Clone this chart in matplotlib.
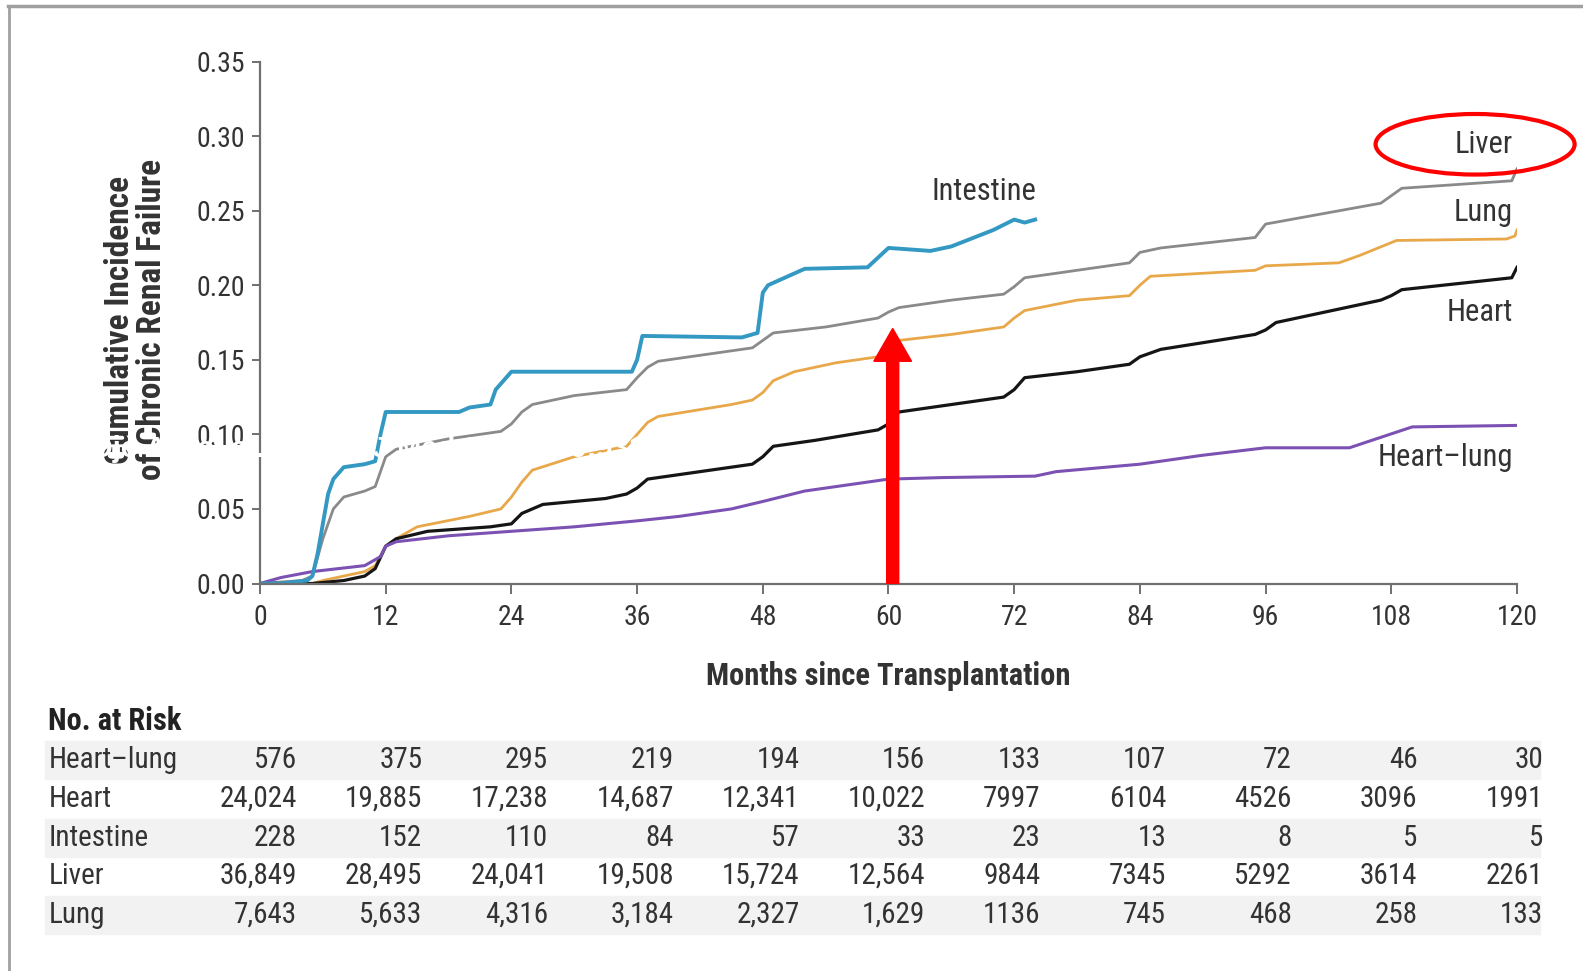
import numpy as np
import matplotlib
matplotlib.use("Agg")
import matplotlib.pyplot as plt
from matplotlib.patches import Ellipse, FancyArrow, Rectangle
from matplotlib.lines import Line2D
from matplotlib.transforms import blended_transform_factory

plt.rcParams['font.family'] = ['Liberation Sans Narrow', 'Roboto Condensed',
                               'Liberation Sans', 'DejaVu Sans']

# Cumulative incidence curves (months, incidence)
intestine_t = [0, 2, 4.5, 5, 5.5, 6, 6.5, 7, 8, 10, 11, 11.5, 12, 19, 20, 22, 22.5, 24,
               35.5, 36, 36.5, 46, 47.5, 48, 48.5, 52, 58, 60, 64, 66, 70, 72, 73, 74]
intestine_y = [0, 0, 0.002, 0.005, 0.02, 0.04, 0.06, 0.07, 0.078, 0.08, 0.082, 0.1, 0.115,
               0.115, 0.118, 0.12, 0.13, 0.142, 0.142, 0.15, 0.166, 0.165, 0.168, 0.195,
               0.2, 0.211, 0.212, 0.225, 0.223, 0.226, 0.237, 0.244, 0.242, 0.244]

liver_t = [0, 4, 5, 6, 7, 8, 10, 11, 12, 13, 18, 23, 24, 25, 26, 30, 35, 36, 37, 38, 44,
           47, 48, 49, 54, 59, 60, 61, 66, 71, 72, 73, 78, 83, 84, 86, 95, 96, 107, 108,
           109, 119.5, 120]
liver_y = [0, 0.002, 0.005, 0.03, 0.05, 0.058, 0.062, 0.065, 0.085, 0.09, 0.097, 0.102,
           0.107, 0.115, 0.12, 0.126, 0.13, 0.138, 0.145, 0.149, 0.155, 0.158, 0.163,
           0.168, 0.172, 0.178, 0.182, 0.185, 0.19, 0.194, 0.199, 0.205, 0.21, 0.215,
           0.222, 0.225, 0.232, 0.241, 0.255, 0.26, 0.265, 0.27, 0.278]

lung_t = [0, 5, 6, 8, 10, 11, 12, 13, 15, 20, 23, 24, 25, 26, 30, 35, 36, 37, 38, 45, 47,
          48, 49, 51, 55, 59, 60, 61, 66, 71, 72, 73, 78, 83, 84, 85, 95, 96, 103, 105,
          108.5, 119, 119.8, 120]
lung_y = [0, 0, 0.002, 0.005, 0.008, 0.012, 0.025, 0.03, 0.038, 0.045, 0.05, 0.058, 0.068,
          0.076, 0.085, 0.092, 0.1, 0.108, 0.112, 0.12, 0.123, 0.128, 0.136, 0.142, 0.148,
          0.152, 0.157, 0.163, 0.167, 0.172, 0.178, 0.183, 0.19, 0.193, 0.2, 0.206, 0.21,
          0.213, 0.215, 0.22, 0.23, 0.231, 0.233, 0.237]

heart_t = [0, 5, 8, 10, 11, 12, 13, 16, 22, 24, 25, 27, 33, 35, 36, 37, 45, 47, 48, 49, 53,
           59, 60, 61, 66, 71, 72, 73, 78, 83, 84, 86, 95, 96, 97, 107, 108, 109, 119.5, 120]
heart_y = [0, 0, 0.002, 0.005, 0.01, 0.025, 0.03, 0.035, 0.038, 0.04, 0.047, 0.053, 0.057,
           0.06, 0.064, 0.07, 0.078, 0.08, 0.085, 0.092, 0.096, 0.103, 0.107, 0.115, 0.12,
           0.125, 0.13, 0.138, 0.142, 0.147, 0.152, 0.157, 0.167, 0.17, 0.175, 0.19, 0.193,
           0.197, 0.205, 0.212]

heartlung_t = [0, 2, 5, 10, 11.5, 12, 13, 18, 24, 30, 36, 40, 45, 48, 52, 56, 60, 65, 74,
               76, 84, 90, 96, 104, 110, 120]
heartlung_y = [0, 0.004, 0.008, 0.012, 0.018, 0.025, 0.028, 0.032, 0.035, 0.038, 0.042,
               0.045, 0.05, 0.055, 0.062, 0.066, 0.07, 0.071, 0.072, 0.075, 0.08, 0.086,
               0.091, 0.091, 0.105, 0.106]

# No. at risk table
risk_months = [0, 12, 24, 36, 48, 60, 72, 84, 96, 108, 120]
risk_groups = ['Heart\u2013lung', 'Heart', 'Intestine', 'Liver', 'Lung']
risk_heartlung = ['576', '375', '295', '219', '194', '156', '133', '107', '72', '46', '30']
risk_heart = ['24,024', '19,885', '17,238', '14,687', '12,341', '10,022', '7997', '6104',
              '4526', '3096', '1991']
risk_intestine = ['228', '152', '110', '84', '57', '33', '23', '13', '8', '5', '5']
risk_liver = ['36,849', '28,495', '24,041', '19,508', '15,724', '12,564', '9844', '7345',
              '5292', '3614', '2261']
risk_lung = ['7,643', '5,633', '4,316', '3,184', '2,327', '1,629', '1136', '745', '468',
             '258', '133']
risk_rows = [risk_heartlung, risk_heart, risk_intestine, risk_liver, risk_lung]

W, H = 1583, 971
fig = plt.figure(figsize=(W / 100, H / 100), dpi=100)
ax = fig.add_axes([260 / W, 1 - 583.5 / H, 1257 / W, 522 / H])
ax.patch.set_visible(False)
ax.set_zorder(2)

txt = '#333333'
ax.plot(liver_t, liver_y, color='#8a8a8a', lw=2.0)
ax.plot(lung_t, lung_y, color='#e8a84a', lw=2.0)
ax.plot(heart_t, heart_y, color='#151515', lw=2.3)
ax.plot(heartlung_t, heartlung_y, color='#7b52b3', lw=2.2)
ax.plot(intestine_t, intestine_y, color='#3398c2', lw=2.8)

ax.set_xlim(0, 120)
ax.set_ylim(0, 0.35)
ax.set_xticks(risk_months)
ax.set_yticks(np.arange(0, 0.351, 0.05))
ax.set_yticklabels(['%.2f' % v for v in np.arange(0, 0.351, 0.05)])
for s in ['top', 'right']:
    ax.spines[s].set_visible(False)
for s in ['left', 'bottom']:
    ax.spines[s].set_color('#707070')
    ax.spines[s].set_linewidth(1.6)
ax.tick_params(axis='x', length=7, width=1.4, color='#707070', labelsize=20,
               labelcolor=txt, pad=8)
ax.tick_params(axis='y', length=6, width=1.4, color='#707070', labelsize=20,
               labelcolor=txt, pad=5)

ax.set_xlabel('Months since Transplantation', fontsize=22, fontweight='bold', color=txt)
ax.xaxis.label.set_va('center')
ax.xaxis.set_label_coords(0.5, -0.178)
ax.set_ylabel('Cumulative Incidence\nof Chronic Renal Failure', fontsize=24,
              fontweight='bold', color=txt, linespacing=1.0)
ax.yaxis.label.set_va('center')
ax.yaxis.set_label_coords(-0.099, 0.505)

# curve labels
ax.text(69.1, 0.2627, 'Intestine', fontsize=22, color=txt, ha='center', va='center')
ax.text(119.6, 0.2945, 'Liver', fontsize=22, color=txt, ha='right', va='center')
ax.text(119.6, 0.249, 'Lung', fontsize=22, color=txt, ha='right', va='center')
ax.text(119.6, 0.1814, 'Heart', fontsize=22, color=txt, ha='right', va='center')
ax.text(119.6, 0.0846, 'Heart\u2013lung', fontsize=22, color=txt, ha='right', va='center')

# red annotations
ax.add_patch(Ellipse((116.0, 0.2945), 19.0, 0.0406, fill=False, ec='red', lw=3,
                     clip_on=False, zorder=6))
ax.add_patch(FancyArrow(60.4, 0.0, 0, 0.171, width=1.15, head_width=3.6,
                        head_length=0.022, length_includes_head=True, color='red',
                        zorder=6))

# table
fig.text(48.5 / W, 1 - 721 / H, 'No. at Risk', fontsize=22, fontweight='bold',
         color='#222222', va='center')
row_y = [760, 799, 838, 876, 915]
trans = blended_transform_factory(ax.transData, fig.transFigure)
for i, (grp, vals, yy) in enumerate(zip(risk_groups, risk_rows, row_y)):
    if i % 2 == 0:
        fig.patches.append(Rectangle((45 / W, 1 - (yy + 19) / H), 1495 / W, 38 / H,
                                     transform=fig.transFigure, color='#f2f2f2',
                                     zorder=-1))
    fig.text(48.5 / W, 1 - yy / H, grp, fontsize=21, color=txt, va='center')
    for j, (m, v) in enumerate(zip(risk_months, vals)):
        off = 3.5 if j < 6 else 2.5
        ax.text(m + off, 1 - yy / H, v, fontsize=21, color=txt, ha='right',
                va='center', transform=trans, clip_on=False)

# screenshot frame
fig.add_artist(Line2D([8 / W, 1], [1 - 6 / H, 1 - 6 / H], color='#a0a0a0', lw=2.5))
fig.add_artist(Line2D([9 / W, 9 / W], [0, 1 - 6 / H], color='#a0a0a0', lw=2))

# faint white watermark text
wm = fig.text(90 / W, 1 - 449 / H, 'Ojo AO et al. N Engl J Med 2003;349:931-40',
              fontsize=21, fontweight='bold', color='white', va='center',
              family=['Liberation Sans', 'DejaVu Sans'])
wm.set_zorder(10)

fig.savefig('out.png', dpi=100)
